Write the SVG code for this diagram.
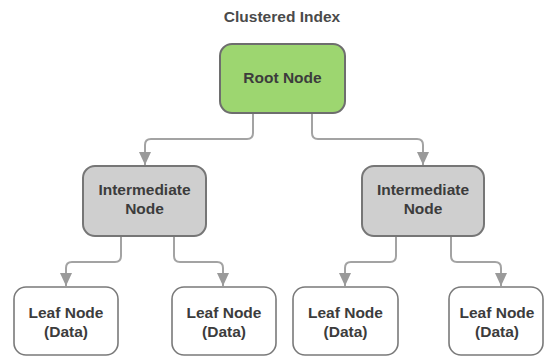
<svg xmlns="http://www.w3.org/2000/svg" width="545" height="359" viewBox="0 0 545 359">
  <defs>
    <marker id="arrow" markerWidth="13" markerHeight="12" refX="13" refY="6" orient="auto" markerUnits="userSpaceOnUse" viewBox="0 0 13 12">
      <path d="M0,0 L13,6 L0,12 Z" fill="#9a9a9a"/>
    </marker>
    <style>
      .title { font-family: "Liberation Sans", Arial, sans-serif; font-weight: bold; font-size: 15.5px; fill: #4a4a4a; text-anchor: middle; }
      .label { font-family: "Liberation Sans", Arial, sans-serif; font-weight: bold; font-size: 15.5px; fill: #3c3c3c; text-anchor: middle; }
      .root rect { fill: #9dd670; stroke: #6e6e6e; stroke-width: 2; }
      .mid rect { fill: #cfcfcf; stroke: #767676; stroke-width: 2; }
      .leaf rect { fill: #ffffff; stroke: #7a7a7a; stroke-width: 1.6; }
      .edge { fill: none; stroke: #a3a3a3; stroke-width: 2; marker-end: url(#arrow); }
    </style>
  </defs>

  <rect width="545" height="359" fill="#ffffff"/>

  <text class="title" x="282" y="22">Clustered Index</text>

  <!-- connectors -->
  <g id="connectors">
    <path class="edge" d="M253,114 V133 Q253,139 247,139 H151 Q145,139 145,145 V165"/>
    <path class="edge" d="M312,114 V133 Q312,139 318,139 H417 Q423,139 423,145 V165"/>
    <path class="edge" d="M121,237 V256 Q121,262 115,262 H72 Q66,262 66,268 V286"/>
    <path class="edge" d="M174,237 V256 Q174,262 180,262 H217 Q223,262 223,268 V286"/>
    <path class="edge" d="M396,237 V256 Q396,262 390,262 H351 Q345,262 345,268 V286"/>
    <path class="edge" d="M451,237 V256 Q451,262 457,262 H495 Q501,262 501,268 V286"/>
  </g>

  <!-- root -->
  <g id="root" class="root">
    <rect x="220" y="44" width="125" height="69" rx="12"/>
    <text class="label" x="282.5" y="83">Root Node</text>
  </g>

  <!-- intermediate nodes -->
  <g id="mid-left" class="mid">
    <rect x="83" y="166" width="123" height="70" rx="12"/>
    <text class="label" x="144.5" y="195">Intermediate</text>
    <text class="label" x="144.5" y="214">Node</text>
  </g>
  <g id="mid-right" class="mid">
    <rect x="362" y="166" width="122" height="70" rx="12"/>
    <text class="label" x="423" y="195">Intermediate</text>
    <text class="label" x="423" y="214">Node</text>
  </g>

  <!-- leaf nodes -->
  <g id="leaf-1" class="leaf">
    <rect x="14" y="287" width="104" height="68" rx="12"/>
    <text class="label" x="66" y="318">Leaf Node</text>
    <text class="label" x="66" y="337">(Data)</text>
  </g>
  <g id="leaf-2" class="leaf">
    <rect x="172" y="287" width="104" height="68" rx="12"/>
    <text class="label" x="224" y="318">Leaf Node</text>
    <text class="label" x="224" y="337">(Data)</text>
  </g>
  <g id="leaf-3" class="leaf">
    <rect x="293" y="287" width="105" height="68" rx="12"/>
    <text class="label" x="345.5" y="318">Leaf Node</text>
    <text class="label" x="345.5" y="337">(Data)</text>
  </g>
  <g id="leaf-4" class="leaf">
    <rect x="449" y="287" width="94" height="68" rx="12"/>
    <text class="label" x="497" y="318">Leaf Node</text>
    <text class="label" x="497" y="337">(Data)</text>
  </g>
</svg>
